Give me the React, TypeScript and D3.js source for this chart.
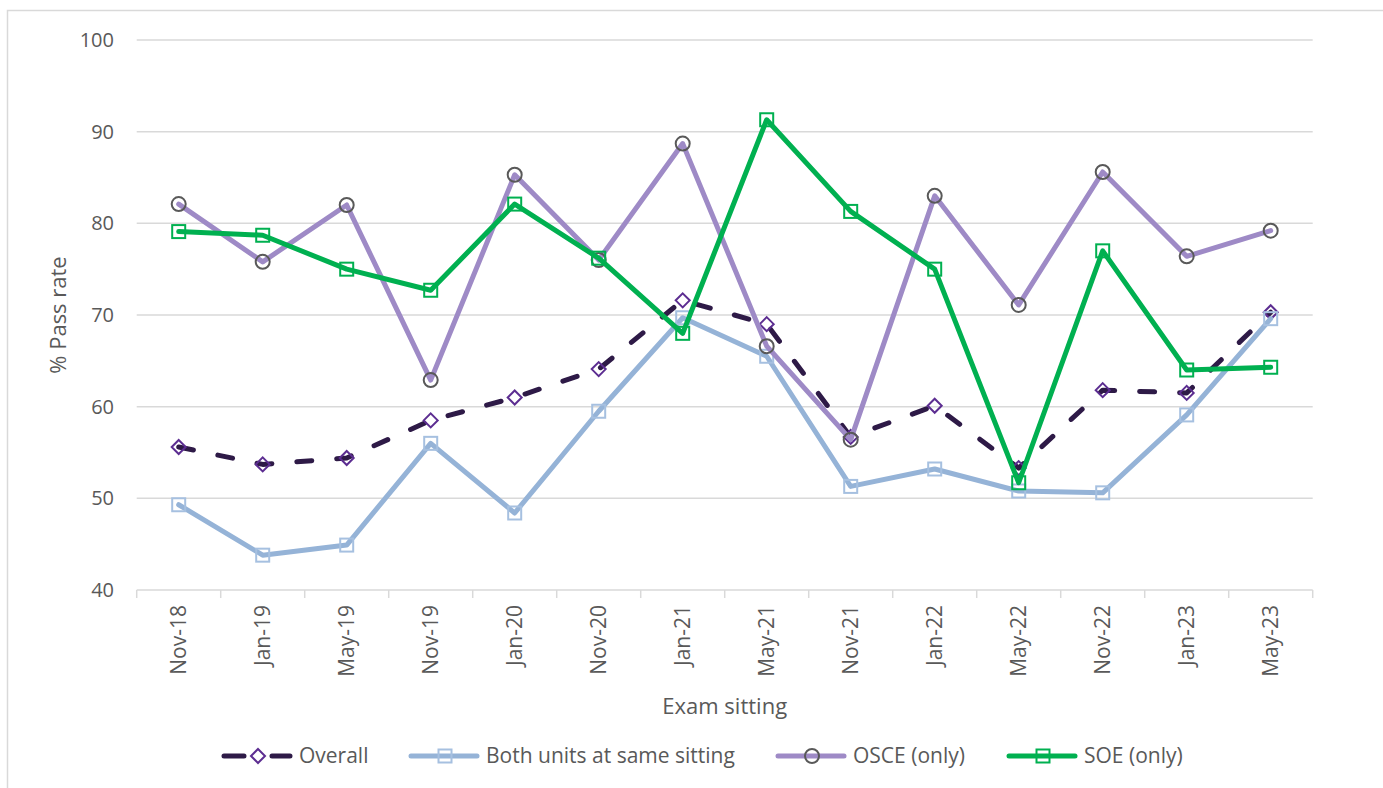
import React from "react";
import * as d3 from "d3";

// exam sittings
const sittings = [
  "Nov-18", "Jan-19", "May-19", "Nov-19", "Jan-20", "Nov-20", "Jan-21",
  "May-21", "Nov-21", "Jan-22", "May-22", "Nov-22", "Jan-23", "May-23",
];

// pass rates (%)
const overall = [55.6, 53.7, 54.4, 58.5, 61.0, 64.1, 71.6, 69.0, 56.7, 60.1, 53.3, 61.8, 61.5, 70.3];
const bothUnits = [49.3, 43.8, 44.9, 56.0, 48.4, 59.5, 69.7, 65.5, 51.3, 53.2, 50.8, 50.6, 59.1, 69.6];
const osceOnly = [82.1, 75.8, 82.0, 62.9, 85.3, 76.0, 88.7, 66.6, 56.4, 83.0, 71.1, 85.6, 76.4, 79.2];
const soeOnly = [79.1, 78.7, 75.0, 72.7, 82.1, 76.2, 68.0, 91.3, 81.3, 75.0, 51.7, 77.0, 64.0, 64.3];

const yTicks = [40, 50, 60, 70, 80, 90, 100];

type Marker = "diamond" | "square" | "circle";

const series = [
  { name: "Overall", values: overall, color: "#2e1a47", dash: "15 25", marker: "diamond" as Marker, markerColor: "#5c2d91" },
  { name: "Both units at same sitting", values: bothUnits, color: "#95b3d7", dash: "", marker: "square" as Marker, markerColor: "#a6c0e0" },
  { name: "OSCE (only)", values: osceOnly, color: "#9e8ac6", dash: "", marker: "circle" as Marker, markerColor: "#595959" },
  { name: "SOE (only)", values: soeOnly, color: "#00b050", dash: "", marker: "square" as Marker, markerColor: "#00b050" },
];

const legendX = [222, 409, 776, 1007];

const FONT = "'Open Sans', sans-serif";
const TEXT = "#595959";
const GRID = "#d9d9d9";

const left = 136.7;
const right = 1312.7;
const top = 40;
const bottom = 590;

function MarkerShape({ type, x, y, color }: { type: Marker; x: number; y: number; color: string }) {
  if (type === "circle") {
    return <circle cx={x} cy={y} r={7} fill="none" stroke={color} strokeWidth={2} />;
  }
  if (type === "square") {
    return <rect x={x - 6.5} y={y - 6.5} width={13} height={13} fill="none" stroke={color} strokeWidth={2} />;
  }
  const s = 7;
  return (
    <path
      d={`M${x},${y - s}L${x + s},${y}L${x},${y + s}L${x - s},${y}Z`}
      fill="none"
      stroke={color}
      strokeWidth={2}
    />
  );
}

export default function App() {
  const x = d3.scaleBand<string>().domain(sittings).range([left, right]);
  const bw = x.bandwidth();
  const cx = (c: string) => (x(c) ?? 0) + bw / 2;
  const y = d3.scaleLinear().domain([40, 100]).range([bottom, top]);

  const line = d3
    .line<number>()
    .x((_, i) => cx(sittings[i]))
    .y((d) => y(d));

  const boundaries = sittings.map((c) => x(c) ?? 0).concat([right]);

  return (
    <svg
      width={1383}
      height={788}
      style={{ position: "absolute", left: 0, top: 0, background: "#fff" }}
      fontFamily={FONT}
    >
      {/* outer frame */}
      <rect x={7.5} y={10.5} width={1400} height={800} fill="none" stroke={GRID} strokeWidth={1.5} />

      {/* gridlines + y labels */}
      {yTicks.map((t) => (
        <g key={t}>
          {t !== 40 && <line x1={left} x2={right} y1={y(t)} y2={y(t)} stroke={GRID} strokeWidth={1.5} />}
          <text x={114} y={y(t)} dy="0.35em" textAnchor="end" fontSize={20} fill={TEXT}>
            {t}
          </text>
        </g>
      ))}

      {/* x axis */}
      <line x1={left} x2={right} y1={bottom} y2={bottom} stroke={GRID} strokeWidth={1.5} />
      {boundaries.map((b, i) => (
        <line key={i} x1={b} x2={b} y1={bottom} y2={bottom + 8} stroke={GRID} strokeWidth={1.5} />
      ))}
      {sittings.map((c) => (
        <text
          key={c}
          transform={`translate(${cx(c)},${bottom + 15}) rotate(-90)`}
          textAnchor="end"
          dy="0.35em"
          fontSize={21}
          fill={TEXT}
        >
          {c}
        </text>
      ))}

      {/* axis titles */}
      <text x={(left + right) / 2} y={714} textAnchor="middle" fontSize={22} fill={TEXT}>
        Exam sitting
      </text>
      <text
        transform={`translate(66,${(top + bottom) / 2}) rotate(-90)`}
        textAnchor="middle"
        fontSize={22}
        fill={TEXT}
      >
        % Pass rate
      </text>

      {/* series */}
      {series.map((s) => (
        <g key={s.name}>
          <path
            d={line(s.values) ?? ""}
            fill="none"
            stroke={s.color}
            strokeWidth={5}
            strokeDasharray={s.dash || undefined}
            strokeLinecap="round"
            strokeLinejoin="round"
          />
          {s.values.map((v, i) => (
            <MarkerShape key={i} type={s.marker} x={cx(sittings[i])} y={y(v)} color={s.markerColor} />
          ))}
        </g>
      ))}

      {/* legend */}
      {series.map((s, i) => {
        const lx = legendX[i];
        const ly = 756;
        return (
          <g key={s.name}>
            <line
              x1={lx + 2}
              x2={lx + 68}
              y1={ly}
              y2={ly}
              stroke={s.color}
              strokeWidth={5}
              strokeDasharray={s.dash ? "20 28" : undefined}
              strokeLinecap="round"
            />
            <MarkerShape type={s.marker} x={lx + 36} y={ly} color={s.markerColor} />
            <text x={lx + 77} y={ly} dy="0.35em" fontSize={21} fill={TEXT}>
              {s.name}
            </text>
          </g>
        );
      })}
    </svg>
  );
}
